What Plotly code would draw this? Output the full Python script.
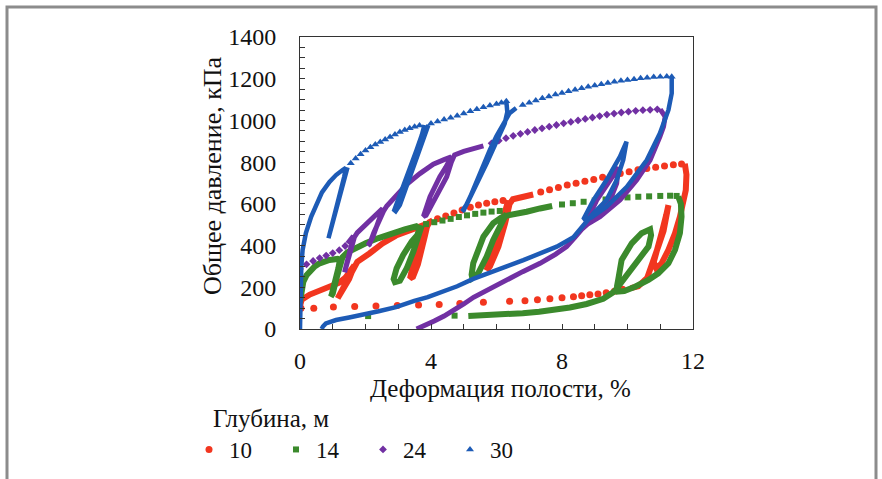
import plotly.graph_objects as go

# ---------------- data (x: cavity strain, %, y: total pressure, kPa) ----------------
# Depth 10 m (red) - densely sampled parts (None separates parts)
red_line_x = [0.0, 0.05, 0.3, 0.7, 1.0, 1.2, 1.38, 1.55, 1.66, 1.5, 1.3, 1.15, 1.25, 1.45, 1.62, 1.75,
              2.12, 2.52, 2.93, 3.34, 3.7, 3.9, 3.82, 3.72, 3.6, 3.45, 3.36, 3.4, 3.46, 3.61, 3.78, 3.95, 4.05,
              None,
              6.36, 6.26, 6.16, 5.9, 5.75, 5.7, 5.8, 6.06, 6.26, 6.4, 6.5, 6.72, 7.12,
              None,
              11.75, 11.8, 11.78, 11.7, 11.6, 11.45, 11.25, 11.04, 10.88, 10.8, 10.9, 11.05, 11.18, 11.25,
              11.2, 11.1, 10.95, 10.8, 10.72, 10.6, 10.33, 10.1]
red_line_y = [110, 140, 165, 188, 207, 222, 245, 282, 305, 240, 180, 147, 170, 230, 290, 322,
              362, 410, 448, 474, 494, 505, 450, 380, 310, 250, 243, 270, 323, 387, 460, 512, 520,
              None,
              617, 560, 506, 395, 310, 283, 300, 395, 506, 600, 622, 630, 645,
              None,
              793, 740, 666, 602, 538, 459, 379, 315, 290, 320, 390, 465, 545, 594,
              540, 470, 400, 330, 285, 245, 205, 196]
# Depth 10 m (red) - individually visible points
red_pts_x = [4.2, 4.45, 4.7, 4.95, 5.2, 5.45, 5.7, 5.95, 6.2,
             7.35, 7.62, 7.89, 8.16, 8.43, 8.7, 8.97, 9.24, 9.51, 9.78, 10.05, 10.32, 10.59, 10.86,
             11.13, 11.4, 11.65,
             9.85, 9.6, 9.35, 9.1, 8.85, 8.6, 8.35, 8.0, 7.63, 7.25, 6.87, 6.4, 5.6, 4.88, 4.25,
             3.62, 2.97, 2.32, 1.67, 1.02, 0.42, 0.03]
red_pts_y = [528, 542, 556, 570, 584, 594, 603, 610, 616,
             657, 668, 679, 690, 699, 708, 717, 727, 736, 745, 754, 763, 770, 776,
             782, 787, 791,
             190, 181, 174, 168, 164, 160, 155, 150, 145, 140, 136, 133, 128, 122, 118,
             115, 113, 110, 108, 105, 100, 100]

# Depth 14 m (green)
green_line_x = [0.0, 0.03, 0.1, 0.2, 0.3, 0.45, 0.6, 0.9, 1.15, 1.22, 1.17, 1.08, 0.97, 0.94, 1.0, 1.1,
                1.2, 1.3, 1.45, 1.61, 2.02, 2.4, 2.83, 3.2, 3.55, 3.65, 3.58, 3.41, 3.15, 2.95, 2.86,
                2.9, 3.05, 3.26, 3.46, 3.62, 3.72,
                None,
                6.31, 6.2, 6.1, 5.9, 5.7, 5.44, 5.26, 5.24, 5.29, 5.4, 5.6, 5.9, 6.15, 6.35, 6.62,
                6.92, 7.33, 7.7,
                None,
                11.55, 11.63, 11.65, 11.6, 11.45, 11.25, 10.94, 10.64, 10.23, 9.9, 9.72, 9.68, 9.72,
                9.82, 10.13, 10.43, 10.69, 10.72, 10.64, 10.33, 10.02, 9.8, 9.6, 9.26, 8.75, 8.24,
                7.8, 7.3, 6.8, 6.3, 5.8, 5.14]
green_line_y = [130, 180, 225, 258, 278, 300, 315, 331, 336, 332, 290, 220, 165, 155, 170, 235,
                300, 345, 368, 382, 412, 436, 460, 478, 492, 480, 450, 419, 355, 291, 240,
                225, 232, 291, 371, 440, 497,
                None,
                555, 520, 491, 427, 347, 267, 245, 260, 315, 363, 443, 507, 535, 545, 550,
                562, 578, 590,
                None,
                635, 600, 538, 459, 379, 315, 267, 235, 203, 182, 180, 205, 240,
                331, 411, 459, 478, 450, 395, 331, 267, 222, 180, 145, 120, 103,
                92, 83, 76, 70, 66, 62]
green_pts_x = [3.85, 4.1, 4.35, 4.6, 4.85, 5.1, 5.35, 5.6, 5.85, 6.1,
               8.0, 8.33, 8.66, 9.0, 9.33, 9.66, 10.0, 10.33, 10.66, 11.0, 11.3, 11.5,
               4.72, 2.08]
green_pts_y = [503, 512, 520, 528, 537, 545, 552, 558, 563, 566,
               597, 603, 610, 616, 621, 626, 631, 634, 636, 638, 639, 638,
               64, 62]

# Depth 24 m (purple)
purple_line_x = [1.45, 1.63, 1.58, 1.5, 1.42, 1.36, 1.38, 1.45, 1.55, 1.66, 1.75, 2.04, 2.3, 2.52,
                 2.45, 2.35, 2.22, 2.08, 2.12, 2.25, 2.4, 2.55, 2.65, 3.0, 3.26, 3.66, 4.07, 4.4,
                 4.62, 4.45, 4.27, 3.97, 3.8, 3.77, 3.85, 4.0, 4.17, 4.48, 4.62, 4.72, 5.0, 5.3, 5.6,
                 None,
                 11.0, 11.1, 11.15, 11.1, 10.99, 10.69, 10.28, 9.77, 9.16, 8.8, 8.75, 8.85, 9.06,
                 9.47, 9.72, 9.67, 9.47, 9.16, 8.85, 8.6, 8.4, 8.14, 7.8, 7.33, 6.8, 6.3, 5.8, 5.3,
                 5.0, 4.7, 4.4, 4.1, 3.8, 3.56]
purple_line_y = [410, 445, 410, 360, 310, 272, 275, 320, 380, 440, 462, 507, 548, 578,
                 540, 490, 440, 400, 405, 460, 520, 565, 590, 650, 694, 745, 790, 812,
                 825, 775, 730, 634, 560, 540, 545, 590, 634, 730, 800, 835, 852, 866, 878,
                 None,
                 1053, 1035, 1018, 970, 922, 810, 714, 618, 538, 505, 520, 550, 618,
                 714, 775, 698, 618, 555, 510, 478, 440, 395, 358, 315, 275, 235, 195, 152,
                 120, 90, 62, 38, 15, 0]
purple_pts_x = [0.0, 0.2, 0.4, 0.6, 0.8, 1.0, 1.2, 1.38,
                5.85, 6.07, 6.29, 6.51, 6.73, 6.95, 7.17, 7.39, 7.61, 7.83, 8.05, 8.27, 8.49,
                8.71, 8.93, 9.15, 9.37, 9.59, 9.81, 10.03, 10.25, 10.47, 10.69, 10.91]
purple_pts_y = [288, 310, 326, 340, 352, 364, 378, 398,
                890, 903, 915, 926, 936, 945, 954, 962, 970, 978, 986, 993, 1000,
                1007, 1014, 1021, 1028, 1033, 1038, 1042, 1046, 1049, 1051, 1053]

# Depth 30 m (blue)
blue_line_x = [0.0, 0.01, 0.02, 0.04, 0.08, 0.18, 0.34, 0.5, 0.67, 0.9, 1.1, 1.3, 1.4,
               1.35, 1.22, 1.08, 0.95, 0.87, 0.92, 1.05, 1.2, 1.33, 1.45,
               None,
               3.8, 3.72, 3.56, 3.4, 3.26, 3.05, 2.88, 2.92, 3.05, 3.2, 3.36, 3.5, 3.66, 3.82, 3.92,
               None,
               6.3, 6.33, 6.25, 6.1, 5.9, 5.7, 5.5, 5.3, 5.1, 4.95, 5.0, 5.2, 5.4, 5.6, 5.8, 6.0,
               6.21, 6.4, 6.6,
               None,
               11.35, 11.35, 11.25, 10.99, 10.59, 9.98, 9.36, 8.9, 8.65, 8.96, 9.36, 9.77, 9.97,
               9.87, 9.67, 9.36, 8.96, 8.7, 8.35, 7.84, 7.33, 6.82, 6.31, 5.8, 5.29, 4.8, 4.27,
               3.9, 3.49, 2.93, 2.4, 1.91, 1.5, 1.1, 0.79, 0.7, 0.66]
blue_line_y = [0, 100, 200, 300, 380, 460, 538, 600, 655, 705, 738, 762, 772,
               730, 650, 560, 480, 435, 450, 530, 620, 700, 775,
               None,
               978, 930, 858, 790, 730, 640, 570, 565, 595, 660, 730, 800, 874, 940, 978,
               None,
               1092, 1040, 985, 930, 858, 795, 730, 660, 600, 565, 570, 635, 712, 790, 860, 925,
               986, 1035, 1060,
               None,
               1210, 1130, 1050, 938, 810, 682, 586, 535, 525, 618, 714, 826, 898,
               810, 714, 618, 555, 505, 440, 395, 360, 330, 300, 270, 240, 205, 172,
               153, 135, 105, 85, 67, 55, 43, 27, 12, 0]
blue_pts_x = [1.55, 1.7, 1.85, 2.0, 2.15, 2.3, 2.45, 2.6, 2.75, 2.9, 3.05, 3.2, 3.35, 3.5, 3.65,
              4.0, 4.2, 4.4, 4.6, 4.8, 5.0, 5.2, 5.4, 5.6, 5.8, 6.0, 6.15, 6.3,
              6.8, 7.0, 7.2, 7.4, 7.6, 7.8, 8.0, 8.2, 8.4, 8.6, 8.8, 9.0, 9.2, 9.4, 9.6, 9.8,
              10.0, 10.2, 10.4, 10.6, 10.8, 11.0, 11.2, 11.35]
blue_pts_y = [795, 818, 838, 856, 871, 885, 897, 909, 921, 933, 944, 954, 963, 970, 976,
              985, 995, 1004, 1013, 1023, 1033, 1044, 1054, 1063, 1071, 1079, 1085, 1092,
              1074, 1085, 1096, 1106, 1115, 1124, 1132, 1140, 1147, 1154, 1161, 1168, 1174, 1180,
              1185, 1190, 1194, 1198, 1202, 1205, 1208, 1210, 1211, 1210]

depth_names = ["10", "14", "24", "30"]
colors = ["#F2361F", "#3B8A2C", "#7130A3", "#1D5BB6"]
symbols = ["circle", "square", "diamond", "triangle-up"]
msizes = [7, 6, 6, 7]
lwidths = [6, 6, 5, 4.5]

x_ticks = [0, 4, 8, 12]
y_ticks = [0, 200, 400, 600, 800, 1000, 1200, 1400]

series = [
    (red_line_x, red_line_y, red_pts_x, red_pts_y),
    (green_line_x, green_line_y, green_pts_x, green_pts_y),
    (purple_line_x, purple_line_y, purple_pts_x, purple_pts_y),
    (blue_line_x, blue_line_y, blue_pts_x, blue_pts_y),
]

fig = go.Figure()
for i, (lx, ly, px, py) in enumerate(series):
    fig.add_trace(go.Scatter(x=lx, y=ly, mode="lines", connectgaps=False,
                             line=dict(color=colors[i], width=lwidths[i]),
                             showlegend=False, hoverinfo="skip"))
    fig.add_trace(go.Scatter(x=px, y=py, mode="markers", name=depth_names[i],
                             marker=dict(color=colors[i], symbol=symbols[i], size=msizes[i],
                                         line=dict(width=0))))

FONT = "Liberation Serif"
TXT = "#111111"
L, R, T, B = 300, 189, 37, 150
W, H = 882, 479
pw, ph = W - L - R, H - T - B

def px2paper_x(p):
    return (p - L) / pw

def px2paper_y(p):
    return (H - B - p) / ph

fig.update_layout(
    width=W, height=H, autosize=False,
    margin=dict(l=L, r=R, t=T, b=B, pad=0, autoexpand=False),
    paper_bgcolor="white", plot_bgcolor="white",
    font=dict(family=FONT, size=24, color=TXT),
    xaxis=dict(range=[0, 12], tickvals=x_ticks, ticks="inside", ticklen=5, tickcolor="#333",
               showgrid=False, zeroline=False, showline=True, linecolor="#333", linewidth=1,
               mirror=True, ticklabelstandoff=10,
               minor=dict(dtick=1, ticks="inside", ticklen=5, tickcolor="#333", showgrid=False),
               tickfont=dict(family=FONT, size=24, color=TXT)),
    yaxis=dict(range=[0, 1400], tickvals=y_ticks, ticks="inside", ticklen=5, tickcolor="#333",
               showgrid=False, zeroline=False, showline=True, linecolor="#333", linewidth=1,
               mirror=True, ticklabelstandoff=18,
               minor=dict(dtick=50, ticks="inside", ticklen=5, tickcolor="#333", showgrid=False),
               tickfont=dict(family=FONT, size=24, color=TXT)),
    legend=dict(orientation="h", x=px2paper_x(189), xanchor="left",
                y=px2paper_y(428), yanchor="top",
                entrywidth=42, entrywidthmode="pixels",
                font=dict(family=FONT, size=23, color=TXT),
                bgcolor="rgba(0,0,0,0)", itemsizing="trace"),
    showlegend=True,
)

fig.add_annotation(text="Деформация полости, %", xref="paper", yref="paper",
                   x=px2paper_x(500), y=px2paper_y(388), xanchor="center", yanchor="middle",
                   showarrow=False, font=dict(family=FONT, size=25, color=TXT))
fig.add_annotation(text="Общее давление, кПа", xref="paper", yref="paper",
                   x=px2paper_x(212), y=px2paper_y(176), xanchor="center", yanchor="middle",
                   textangle=-90, showarrow=False, font=dict(family=FONT, size=26, color=TXT))
fig.add_annotation(text="Глубина, м", xref="paper", yref="paper",
                   x=px2paper_x(211), y=px2paper_y(418), xanchor="left", yanchor="middle",
                   showarrow=False, font=dict(family=FONT, size=25, color=TXT))

fig.add_shape(type="rect", xref="paper", yref="paper",
              x0=px2paper_x(7), x1=px2paper_x(876), y0=px2paper_y(500), y1=px2paper_y(7),
              line=dict(color="#8c8c8c", width=3), fillcolor="rgba(0,0,0,0)", layer="below")

fig.write_html("out.html")
